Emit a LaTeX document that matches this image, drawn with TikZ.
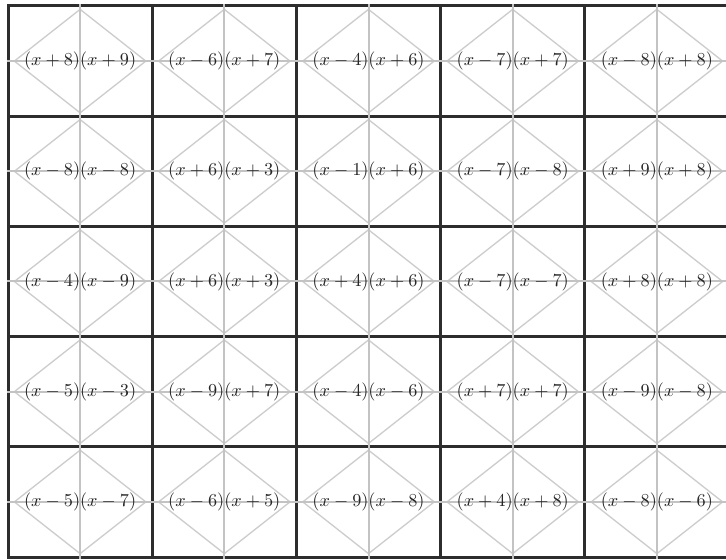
\documentclass[tikz,border=0pt]{standalone}
\usepackage{amsmath}
\usepackage{xcolor}
\usepackage{tikz}
\usetikzlibrary{shapes.geometric, positioning, calc}
\definecolor{gridgray}{RGB}{45,45,45}
\definecolor{guidegray}{RGB}{195,195,195}
\definecolor{rhombgray}{RGB}{205,205,205}
\tikzset{
  cell/.style={rectangle, draw=gridgray, line width=1.8pt,
    minimum width=86.52pt, minimum height=66.12pt, inner sep=0pt},
  rhomb/.style={diamond, draw=rhombgray, line width=0.8pt,
    minimum width=79.2pt, minimum height=62.4pt, inner sep=0pt},
  guide/.style={draw=guidegray, line width=1.2pt},
  expr/.style={font=\fontsize{10.5}{12}\selectfont, text=black!85, inner sep=1pt}
}

\begin{document}
\begin{tikzpicture}[x=1pt, y=1pt]
  \useasboundingbox (0,0) rectangle (435.6,-336);
  \fill[white] (0,0) rectangle (435.6,-336);
  % 5 x 5 grid of factor cells
  \foreach \r/\c/\t in {
    1/1/{$(x+8)(x+9)$}, 1/2/{$(x-6)(x+7)$}, 1/3/{$(x-4)(x+6)$}, 1/4/{$(x-7)(x+7)$}, 1/5/{$(x-8)(x+8)$},
    2/1/{$(x-8)(x-8)$}, 2/2/{$(x+6)(x+3)$}, 2/3/{$(x-1)(x+6)$}, 2/4/{$(x-7)(x-8)$}, 2/5/{$(x+9)(x+8)$},
    3/1/{$(x-4)(x-9)$}, 3/2/{$(x+6)(x+3)$}, 3/3/{$(x+4)(x+6)$}, 3/4/{$(x-7)(x-7)$}, 3/5/{$(x+8)(x+8)$},
    4/1/{$(x-5)(x-3)$}, 4/2/{$(x-9)(x+7)$}, 4/3/{$(x-4)(x-6)$}, 4/4/{$(x+7)(x+7)$}, 4/5/{$(x-9)(x-8)$},
    5/1/{$(x-5)(x-7)$}, 5/2/{$(x-6)(x+5)$}, 5/3/{$(x-9)(x-8)$}, 5/4/{$(x+4)(x+8)$}, 5/5/{$(x-8)(x-6)$}} {
    \node[cell] (c\r\c) at ({4.8+86.52*(\c-0.5)}, {-(3.6+66.12*(\r-0.5))}) {};
    \node[rhomb] (d\r\c) at (c\r\c) {};
    \draw[guide] (c\r\c.north) -- (c\r\c.south);
    \draw[guide] (c\r\c.west) -- (c\r\c.east);
    \node[expr] (t\r\c) at (c\r\c) {\t};
  }
\end{tikzpicture}
\end{document}
